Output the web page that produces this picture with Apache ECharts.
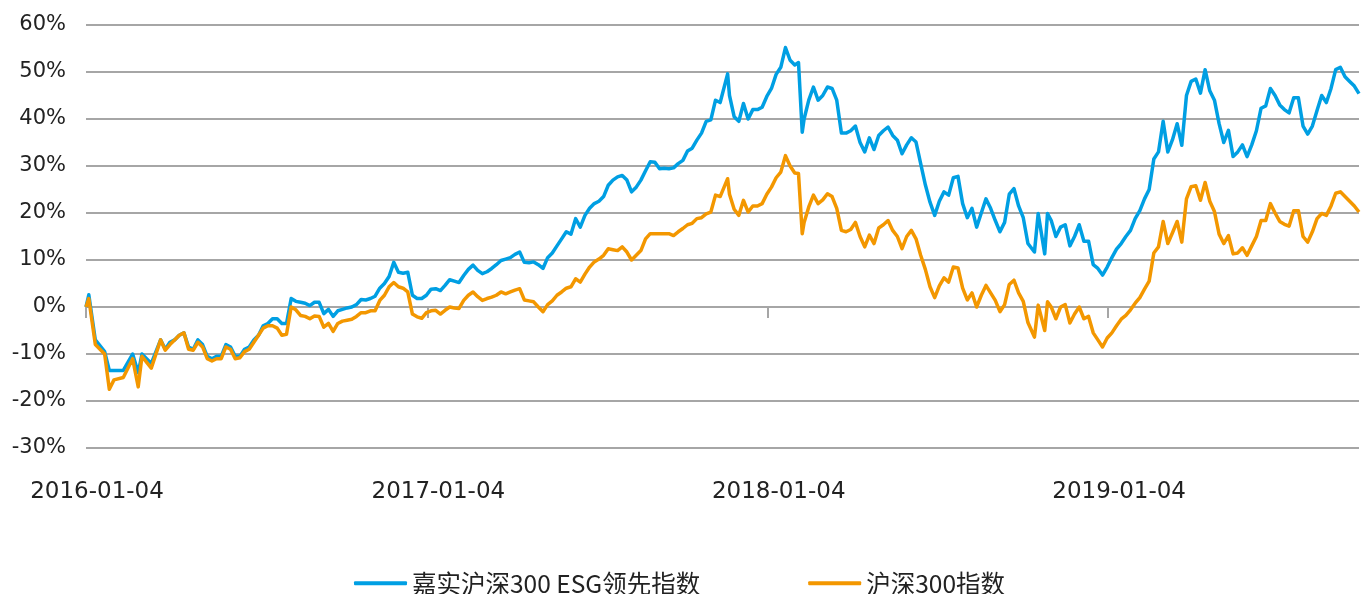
<!DOCTYPE html>
<html>
<head>
<meta charset="utf-8">
<script src="https://cdn.jsdelivr.net/npm/echarts@6/dist/echarts.min.js"></script>
<style>
  html, body { margin: 0; padding: 0; background: #fff; }
  #chart { width: 1367px; height: 594px; }
</style>
</head>
<body>
<div id="chart"></div>
<script>
// sample dates
const dates = [
  '2016-01-04','2016-01-07','2016-01-14','2016-01-24','2016-01-29','2016-02-03','2016-02-13','2016-02-23','2016-02-29','2016-03-04',
  '2016-03-14','2016-03-24','2016-03-29','2016-04-03','2016-04-08','2016-04-13','2016-04-18','2016-04-23','2016-04-28','2016-05-03',
  '2016-05-08','2016-05-13','2016-05-18','2016-05-23','2016-05-28','2016-06-02','2016-06-07','2016-06-12','2016-06-17','2016-06-22',
  '2016-06-27','2016-07-02','2016-07-07','2016-07-12','2016-07-17','2016-07-22','2016-07-27','2016-08-01','2016-08-06','2016-08-11',
  '2016-08-16','2016-08-21','2016-08-26','2016-08-31','2016-09-05','2016-09-10','2016-09-15','2016-09-20','2016-09-25','2016-09-30',
  '2016-10-05','2016-10-10','2016-10-15','2016-10-20','2016-10-25','2016-10-30','2016-11-04','2016-11-09','2016-11-14','2016-11-19',
  '2016-11-24','2016-11-29','2016-12-04','2016-12-09','2016-12-14','2016-12-19','2016-12-24','2016-12-29','2017-01-03','2017-01-08',
  '2017-01-13','2017-01-18','2017-01-23','2017-01-28','2017-02-02','2017-02-07','2017-02-12','2017-02-17','2017-02-22','2017-02-27',
  '2017-03-04','2017-03-09','2017-03-14','2017-03-19','2017-03-24','2017-03-29','2017-04-03','2017-04-08','2017-04-13','2017-04-18',
  '2017-04-23','2017-04-28','2017-05-03','2017-05-08','2017-05-13','2017-05-18','2017-05-23','2017-05-28','2017-06-02','2017-06-07',
  '2017-06-12','2017-06-17','2017-06-22','2017-06-27','2017-07-02','2017-07-07','2017-07-12','2017-07-17','2017-07-22','2017-07-27',
  '2017-08-01','2017-08-06','2017-08-11','2017-08-16','2017-08-21','2017-08-26','2017-08-31','2017-09-05','2017-09-10','2017-09-15',
  '2017-09-20','2017-09-25','2017-09-30','2017-10-05','2017-10-10','2017-10-15','2017-10-20','2017-10-25','2017-10-30','2017-11-04',
  '2017-11-09','2017-11-14','2017-11-22','2017-11-24','2017-11-29','2017-12-04','2017-12-09','2017-12-14','2017-12-19','2017-12-24',
  '2017-12-29','2018-01-03','2018-01-08','2018-01-13','2018-01-18','2018-01-23','2018-01-28','2018-02-02','2018-02-06','2018-02-10',
  '2018-02-12','2018-02-17','2018-02-22','2018-02-27','2018-03-04','2018-03-09','2018-03-14','2018-03-19','2018-03-24','2018-03-29',
  '2018-04-03','2018-04-08','2018-04-13','2018-04-18','2018-04-23','2018-04-28','2018-05-03','2018-05-08','2018-05-13','2018-05-18',
  '2018-05-23','2018-05-28','2018-06-02','2018-06-07','2018-06-12','2018-06-17','2018-06-22','2018-06-27','2018-07-02','2018-07-07',
  '2018-07-12','2018-07-17','2018-07-22','2018-07-27','2018-08-01','2018-08-06','2018-08-11','2018-08-16','2018-08-21','2018-08-26',
  '2018-08-31','2018-09-05','2018-09-10','2018-09-15','2018-09-20','2018-09-25','2018-09-30','2018-10-05','2018-10-10','2018-10-17',
  '2018-10-21','2018-10-28','2018-10-31','2018-11-04','2018-11-09','2018-11-14','2018-11-19','2018-11-24','2018-11-29','2018-12-04',
  '2018-12-09','2018-12-14','2018-12-19','2018-12-24','2018-12-29','2019-01-03','2019-01-08','2019-01-13','2019-01-18','2019-01-23',
  '2019-01-28','2019-02-02','2019-02-07','2019-02-12','2019-02-17','2019-02-22','2019-02-27','2019-03-04','2019-03-09','2019-03-14',
  '2019-03-19','2019-03-24','2019-03-29','2019-04-03','2019-04-08','2019-04-13','2019-04-18','2019-04-23','2019-04-28','2019-05-03',
  '2019-05-08','2019-05-13','2019-05-18','2019-05-23','2019-05-28','2019-06-02','2019-06-07','2019-06-12','2019-06-17','2019-06-22',
  '2019-06-27','2019-07-02','2019-07-07','2019-07-12','2019-07-17','2019-07-22','2019-07-27','2019-08-01','2019-08-06','2019-08-11',
  '2019-08-16','2019-08-21','2019-08-26','2019-08-31','2019-09-05','2019-09-10','2019-09-15','2019-09-20','2019-09-25','2019-09-30'
];

// 嘉实沪深300 ESG领先指数, cumulative return %
const esgLeader = [
  0, 2.6, -7, -9.5, -13.5, -13.5, -13.5, -10, -14, -10,
  -12, -7, -9, -7.5, -7, -6, -5.5, -8.5, -9, -7,
  -8, -10.5, -11, -10.5, -10.5, -8, -8.5, -10.5, -10.5, -9,
  -8.5, -7, -6, -4, -3.5, -2.5, -2.5, -3.5, -3.5, 1.8,
  1.2, 1.0, 0.8, 0.3, 1.0, 1.0, -1.4, -0.5, -2, -0.8,
  -0.5, -0.2, 0, 0.5, 1.6, 1.5, 1.8, 2.3, 4, 5.0,
  6.5, 9.5, 7.4, 7.2, 7.4, 2.5, 1.8, 1.8, 2.5, 3.8,
  3.9, 3.5, 4.6, 5.8, 5.5, 5.2, 6.7, 8.0, 8.9, 7.8,
  7.1, 7.5, 8.2, 9.0, 9.9, 10.2, 10.5, 11.2, 11.7, 9.5,
  9.4, 9.6, 9, 8.2, 10.5, 11.5, 13, 14.5, 16, 15.5,
  18.8, 17, 19.5, 21, 22, 22.5, 23.5, 25.9, 27, 27.7,
  28, 27, 24.5, 25.5, 27, 29, 30.9, 30.8, 29.4, 29.5,
  29.4, 29.6, 30.5, 31.2, 33.2, 33.8, 35.5, 37, 39.5, 39.8,
  44, 43.5, 49.6, 45, 40.5, 39.5, 43.3, 40, 42, 42,
  42.5, 44.8, 46.5, 49.5, 51, 55.2, 52.5, 51.5, 52, 37.2,
  40, 44, 46.8, 44, 45, 46.8, 46.5, 44, 37, 37,
  37.5, 38.5, 35, 33, 36, 33.5, 36.5, 37.5, 38.3, 36.5,
  35.5, 32.6, 34.5, 36, 35.1, 30.5, 26, 22.3, 19.5, 22.5,
  24.5, 23.8, 27.5, 27.8, 22, 19, 21, 17, 20, 23,
  21, 18.4, 16, 18, 24, 25.2, 21.5, 19, 13.5, 11.7,
  19.9, 11.3, 19.9, 18.4, 15, 17, 17.5, 13, 15, 17.5,
  14, 14, 9, 8.2, 6.8, 8.5, 10.5, 12.3, 13.5, 15,
  16.3, 18.8, 20.5, 23, 25, 31.5, 33, 39.5, 33, 35.6,
  39, 34.4, 45, 48, 48.5, 45.5, 50.5, 46, 44, 39,
  35, 37.6, 32, 33, 34.5, 32, 34.5, 37.5, 42.3, 42.8,
  46.5, 45, 43, 42, 41.3, 44.5, 44.5, 38.5, 36.8, 38.5,
  41.8, 45, 43.5, 46.5, 50.5, 51, 49, 48, 47, 45.4
];

// 沪深300指数, cumulative return %
const csi300 = [
  0, 1.8, -8, -10, -17.5, -15.5, -15, -11, -17, -10.5,
  -13, -7, -9.2, -8, -7, -6, -5.5, -9, -9.2, -7.5,
  -8.5, -11, -11.5, -11, -11, -8.5, -9, -11, -10.8, -9.5,
  -9, -7.5, -6, -4.5, -4, -4, -4.5, -6, -5.8, 0,
  -0.6, -1.8, -2, -2.5, -1.9, -2.0, -4.3, -3.5, -5.2, -3.5,
  -3, -2.8, -2.6, -2, -1.2, -1.2, -0.8, -0.8, 1.4, 2.5,
  4.3, 5.2, 4.3, 4, 3.2, -1.5, -2.1, -2.4, -1.2, -0.8,
  -0.7, -1.5, -0.7, 0, -0.2, -0.3, 1.4, 2.5, 3.2, 2.2,
  1.4, 1.8, 2.1, 2.5, 3.2, 2.8, 3.2, 3.6, 3.9, 1.5,
  1.3, 1.1, 0, -1.0, 0.5, 1.3, 2.5, 3.2, 4, 4.3,
  6, 5.3, 7, 8.5, 9.6, 10.2, 11, 12.4, 12.2, 12,
  12.8, 11.7, 10, 11, 12, 14.5, 15.6, 15.6, 15.6, 15.6,
  15.6, 15.2, 16, 16.7, 17.5, 17.8, 18.8, 19, 19.8, 20.2,
  23.8, 23.5, 27.3, 24, 20.8, 19.5, 22.7, 20.2, 21.5, 21.5,
  22, 24, 25.5, 27.5, 28.7, 32.2, 30, 28.5, 28.4, 15.6,
  18, 21.3, 23.8, 22, 22.8, 24.1, 23.5, 21, 16.3, 16,
  16.5, 18, 15, 12.8, 15.3, 13.5, 16.8, 17.5, 18.4, 16.3,
  15, 12.4, 15, 16.3, 14.5, 11, 8, 4.3, 2, 4.5,
  6.2, 5.3, 8.5, 8.3, 4, 1.5, 3, 0, 2.5, 4.6,
  3, 1.4, -1, 0.5, 4.8, 5.7, 3, 1.2, -3.3, -6.4,
  0.4, -5, 1.1, 0, -2.5, 0, 0.5, -3.4, -1.5, 0,
  -2.5, -2, -5.5, -7, -8.5, -6.6, -5.5, -4, -2.6, -1.8,
  -0.6, 0.8, 2, 3.8, 5.5, 11.5, 12.8, 18.2, 13.5, 15.8,
  18.2, 13.8, 23, 25.6, 25.8, 22.7, 26.5, 22.5, 20.3, 15.5,
  13.5, 15.2, 11.3, 11.5, 12.6, 11, 13, 15, 18.4, 18.4,
  22, 20, 18.2, 17.6, 17.2, 20.5, 20.5, 15, 13.8, 16,
  18.8, 19.9, 19.5, 21.5, 24.2, 24.5, 23.5, 22.5, 21.5, 20.2
];

const labelDates = ['2016-01-04', '2017-01-04', '2018-01-04', '2019-01-04'];
const seriesNames = ['嘉实沪深300 ESG领先指数', '沪深300指数'];

// x position = calendar days since the first date
const DAY = 86400000;
const t0 = Date.UTC(2016, 0, 4);
const dayOf = (s) => {
  const p = s.split('-').map(Number);
  return Math.round((Date.UTC(p[0], p[1] - 1, p[2]) - t0) / DAY);
};
const labelDays = labelDates.map(dayOf);
const dayToLabel = (v) => {
  const i = labelDays.indexOf(Math.round(v));
  return i >= 0 ? labelDates[i] : '';
};

const chart = echarts.init(document.getElementById('chart'), null, { renderer: 'canvas' });

const xBase = {
  type: 'value',
  min: 0,
  max: dayOf(dates[dates.length - 1]),
  splitLine: { show: false }
};

chart.setOption({
  animation: false,
  backgroundColor: '#fff',
  grid: { left: 86, right: 8, top: 25, bottom: 146, outerBoundsMode: 'none' },
  legend: {
    left: 349,
    top: 566,
    itemGap: 108,
    itemWidth: 53,
    itemHeight: 4,
    icon: 'roundRect',
    textStyle: { fontFamily: 'Noto Sans CJK SC', fontSize: 24.5, color: '#222' },
    data: seriesNames
  },
  xAxis: [
    Object.assign({}, xBase, {
      position: 'bottom',
      axisLine: { show: false, onZero: false },
      axisTick: { show: false },
      axisLabel: {
        customValues: labelDays,
        margin: 33,
        padding: [0, 0, 0, 22],
        fontFamily: 'DejaVu Sans',
        fontSize: 23,
        color: '#222',
        formatter: dayToLabel
      }
    }),
    Object.assign({}, xBase, {
      position: 'bottom',
      axisLine: { show: true, onZero: true, lineStyle: { color: '#a6a6a6', width: 2 } },
      axisTick: { show: true, customValues: labelDays, length: 11, inside: false, lineStyle: { color: '#a6a6a6', width: 2 } },
      axisLabel: { show: false }
    })
  ],
  yAxis: {
    type: 'value',
    min: -30,
    max: 60,
    interval: 10,
    axisLine: { show: false },
    axisTick: { show: false },
    splitLine: { show: true, lineStyle: { color: '#a6a6a6', width: 2 } },
    axisLabel: {
      formatter: '{value}%',
      margin: 20,
      fontFamily: 'DejaVu Sans',
      fontSize: 21,
      color: '#222'
    }
  },
  series: [
    {
      name: seriesNames[0],
      type: 'line',
      xAxisIndex: 0,
      symbol: 'none',
      color: '#009fe3',
      lineStyle: { width: 3.5, join: 'round' },
      data: dates.map((d, i) => [dayOf(d), esgLeader[i]])
    },
    {
      name: seriesNames[1],
      type: 'line',
      xAxisIndex: 0,
      symbol: 'none',
      color: '#f39700',
      lineStyle: { width: 3.5, join: 'round' },
      data: dates.map((d, i) => [dayOf(d), csi300[i]])
    }
  ]
});
</script>
</body>
</html>
